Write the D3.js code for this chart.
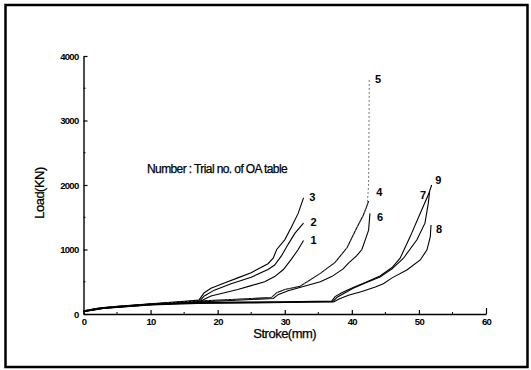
<!DOCTYPE html>
<html>
<head>
<meta charset="utf-8">
<script src="https://cdn.jsdelivr.net/npm/d3@7"></script>
<style>
  body { margin: 0; background: #fff; }
  svg { display: block; font-family: "Liberation Sans", Arial, sans-serif; }
</style>
</head>
<body>
<div id="chart"></div>
<script>
// --- data: [stroke (mm), load (kN)] ---
const trial1 = [[0,40],[2,80],[5,110],[10,150],[15,175],[17.4,190],[18,230],[19,280],[21,330],[23,380],[25,440],[27,500],[28.5,580],[29.8,690],[31,850],[32,1000],[32.8,1140]];
const trial2 = [[0,45],[2,85],[5,115],[10,155],[15,185],[17.3,200],[18,280],[19.5,370],[22,470],[25,570],[27.5,690],[28.5,760],[29.5,900],[30.5,1080],[31.5,1250],[32.8,1410]];
const trial3 = [[0,50],[2,90],[5,120],[10,160],[15,195],[17.2,215],[18,330],[19,400],[21,480],[23,560],[25,640],[27.5,780],[28.3,870],[28.8,1000],[30,1150],[31,1350],[32,1560],[32.8,1800]];
const trial4 = [[0,45],[3,100],[10,155],[17,200],[22,225],[28,255],[28.8,330],[30,380],[32.3,430],[35.3,630],[37.5,800],[39.3,1030],[40.7,1330],[41.7,1530],[42.2,1660],[42.5,1750]];
const trial5 = [[0,42],[3,98],[10,152],[17,198],[22,222],[28,252],[28.8,328],[30,378],[32.3,428],[35.3,625],[37.5,795],[39.3,1025],[40.7,1325],[41.7,1525],[42.3,1700],[42.5,2000],[42.6,3640]];
const trial6 = [[0,40],[3,90],[10,145],[17,185],[22,210],[28.3,240],[29,300],[30.5,360],[32.5,420],[35.3,500],[37,580],[38.7,700],[39.5,790],[40.7,900],[41.5,1000],[42,1150],[42.5,1300],[42.7,1560]];
const trial7 = [[0,38],[3,90],[10,145],[17,175],[25,180],[30,185],[37.2,195],[37.8,260],[39,330],[40.2,400],[42,480],[44.2,575],[46,700],[47.7,865],[49.7,1150],[50.9,1408],[51.4,1720],[51.6,1900]];
const trial8 = [[0,35],[3,85],[10,140],[17,165],[25,172],[30,178],[37.3,185],[38,230],[39.5,290],[41.5,350],[43.5,420],[44.7,470],[46,560],[48.2,683],[50.2,838],[51.2,994],[51.7,1200],[51.8,1380]];
const trial9 = [[0,40],[3,95],[10,150],[17,180],[25,185],[30,190],[37,200],[37.5,270],[38.5,330],[40.2,410],[42,490],[44.2,590],[46,720],[47.2,865],[48.7,1200],[50.2,1563],[51.4,1848],[51.9,2000]];

const trials = [trial1, trial2, trial3, trial4, trial5, trial6, trial7, trial8, trial9];
const trialLabels = ["1","2","3","4","5","6","7","8","9"];
// where each number sits, in data units
const labelPos = [[34.3,1140],[34.3,1420],[34.1,1820],[44.1,1890],[43.9,3640],[44.2,1500],[50.6,1840],[53.0,1320],[52.9,2080]];

const xTicks = [0,10,20,30,40,50,60];
const yTicks = [0,1000,2000,3000,4000];
const xMinor = [5,15,25,35,45,55];
const yMinor = [500,1500,2500,3500];

const W = 531, H = 370;
const svg = d3.select("#chart").append("svg").attr("width", W).attr("height", H);

// outer frame
svg.append("rect")
  .attr("x", 5.5).attr("y", 5).attr("width", 522).attr("height", 362)
  .attr("fill", "none").attr("stroke", "#000").attr("stroke-width", 2.5);

const x = d3.scaleLinear().domain([0, 60]).range([83.5, 486]);
const y = d3.scaleLinear().domain([0, 4000]).range([314, 56]);

// --- axes (ticks point inward) ---
const gx = svg.append("g").attr("transform", `translate(0,${y(0)})`)
  .call(d3.axisBottom(x).tickValues(xTicks).tickSize(-4).tickSizeOuter(0).tickPadding(6).tickFormat(d3.format("d")));
gx.selectAll(".tick").filter(d => d === 60).select("line").attr("y2", -6);
gx.append("g").selectAll("line").data(xMinor).join("line")
  .attr("x1", d => x(d)).attr("x2", d => x(d)).attr("y1", 0).attr("y2", -2).attr("stroke", "#000");

const gy = svg.append("g").attr("transform", `translate(${x(0)},0)`)
  .call(d3.axisLeft(y).tickValues(yTicks).tickSize(-4).tickSizeOuter(0).tickPadding(5).tickFormat(d3.format("d")));
gy.append("g").selectAll("line").data(yMinor).join("line")
  .attr("y1", d => y(d)).attr("y2", d => y(d)).attr("x1", 0).attr("x2", 2).attr("stroke", "#000");

svg.selectAll(".domain").attr("stroke", "#000").attr("stroke-width", 1.4);
svg.selectAll(".tick line").attr("stroke", "#000").attr("stroke-width", 1.2);
svg.selectAll(".tick text")
  .attr("fill", "#000").style("font-size", "9.5px").style("font-weight", "bold")
  .style("letter-spacing", "-0.7px");
gx.selectAll(".tick text").attr("dy", "0.5em");

// axis titles
svg.append("text").attr("x", x(30)).attr("y", 338).attr("text-anchor", "middle")
  .style("font-size", "13px").style("letter-spacing", "-0.5px")
  .attr("stroke", "#000").attr("stroke-width", 0.25).text("Stroke(mm)");
svg.append("text").attr("transform", `translate(44,${y(2000) + 8}) rotate(-90)`).attr("text-anchor", "middle")
  .style("font-size", "13px").style("letter-spacing", "-0.5px")
  .attr("stroke", "#000").attr("stroke-width", 0.25).text("Load(KN)");

// annotation
svg.append("text").attr("x", 147).attr("y", 173)
  .style("font-size", "12px").style("letter-spacing", "-0.6px")
  .attr("stroke", "#000").attr("stroke-width", 0.25).text("Number : Trial no. of OA table");

// --- curves ---
const line = d3.line().x(d => x(d[0])).y(d => y(d[1]));
svg.append("g").selectAll("path").data(trials).join("path")
  .attr("d", line)
  .attr("fill", "none")
  .attr("stroke", (d, i) => i === 4 ? "#666" : "#000")
  .attr("stroke-width", (d, i) => i === 4 ? 0.9 : 1.1)
  .attr("stroke-dasharray", (d, i) => i === 4 ? "2,2" : null);

svg.append("g").selectAll("text").data(trialLabels).join("text")
  .attr("x", (d, i) => x(labelPos[i][0]))
  .attr("y", (d, i) => y(labelPos[i][1]) + 4)
  .attr("text-anchor", "middle")
  .style("font-size", "11px").style("font-weight", "bold")
  .text(d => d);
</script>
</body>
</html>
